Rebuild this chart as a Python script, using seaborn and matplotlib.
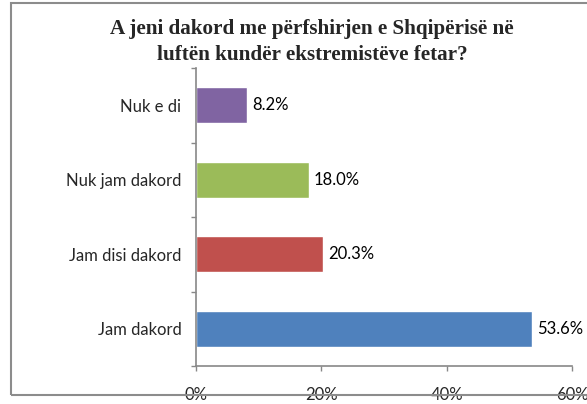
import matplotlib
matplotlib.use("Agg")
import matplotlib.pyplot as plt
import seaborn as sns
import pandas as pd
from matplotlib.patches import Rectangle
from matplotlib.ticker import FixedLocator

categories = ["Nuk e di", "Nuk jam dakord", "Jam disi dakord", "Jam dakord"]
values = [8.2, 18.0, 20.3, 53.6]
colors = ["#8064A2", "#9BBB59", "#C0504D", "#4F81BD"]
x_ticks = [0, 20, 40, 60]
x_tick_labels = ["0%", "20%", "40%", "60%"]
title = "A jeni dakord me përfshirjen e Shqipërisë në\nluftën kundër ekstremistëve fetar?"

df = pd.DataFrame({"category": categories, "value": values})

sns.set_theme(style="white")
plt.rcParams["font.family"] = ["Lato", "DejaVu Sans"]

fig = plt.figure(figsize=(5.87, 4.04), dpi=100)
ax = fig.add_axes([196 / 587, 1 - 366 / 404, (572 - 196) / 587, (366 - 68) / 404])

sns.barplot(data=df, y="category", x="value", hue="category", order=categories,
            hue_order=categories, palette=colors, orient="h", width=0.48,
            legend=False, ax=ax, saturation=1)

for cont in ax.containers:
    ax.bar_label(cont, fmt="%.1f%%", padding=3.6, fontsize=12, color="#000000")

ax.set_xlim(0, 60)
ax.set_ylim(3.5, -0.5)
ax.set_xticks(x_ticks)
ax.set_xticklabels(x_tick_labels, fontsize=12)
ax.set_xlabel("")
ax.set_ylabel("")
ax.tick_params(axis="y", which="major", length=0, pad=10.5, labelsize=12)
ax.yaxis.set_minor_locator(FixedLocator([-0.5, 0.5, 1.5, 2.5, 3.5]))
ax.tick_params(axis="y", which="minor", length=3.6, width=1, color="#888888", left=True)
ax.tick_params(axis="x", which="major", length=3.6, width=1, color="#888888", pad=11.5, bottom=True)

for s in ["top", "right"]:
    ax.spines[s].set_visible(False)
for s in ["left", "bottom"]:
    ax.spines[s].set_color("#888888")
    ax.spines[s].set_linewidth(1.2)

fig.text(312 / 587, 1 - 42 / 404, title, ha="center", va="center",
         fontsize=15.2, fontweight="bold", family=["Liberation Serif", "DejaVu Serif"],
         linespacing=1.45)

frame = Rectangle((10.5 / 587, 1 - 395 / 404), 1.2, (395 - 2.5) / 404,
                  transform=fig.transFigure, fill=False, edgecolor="#8c8c8c",
                  linewidth=1.5, zorder=10)
fig.patches.append(frame)

fig.savefig("out.png", dpi=100)
